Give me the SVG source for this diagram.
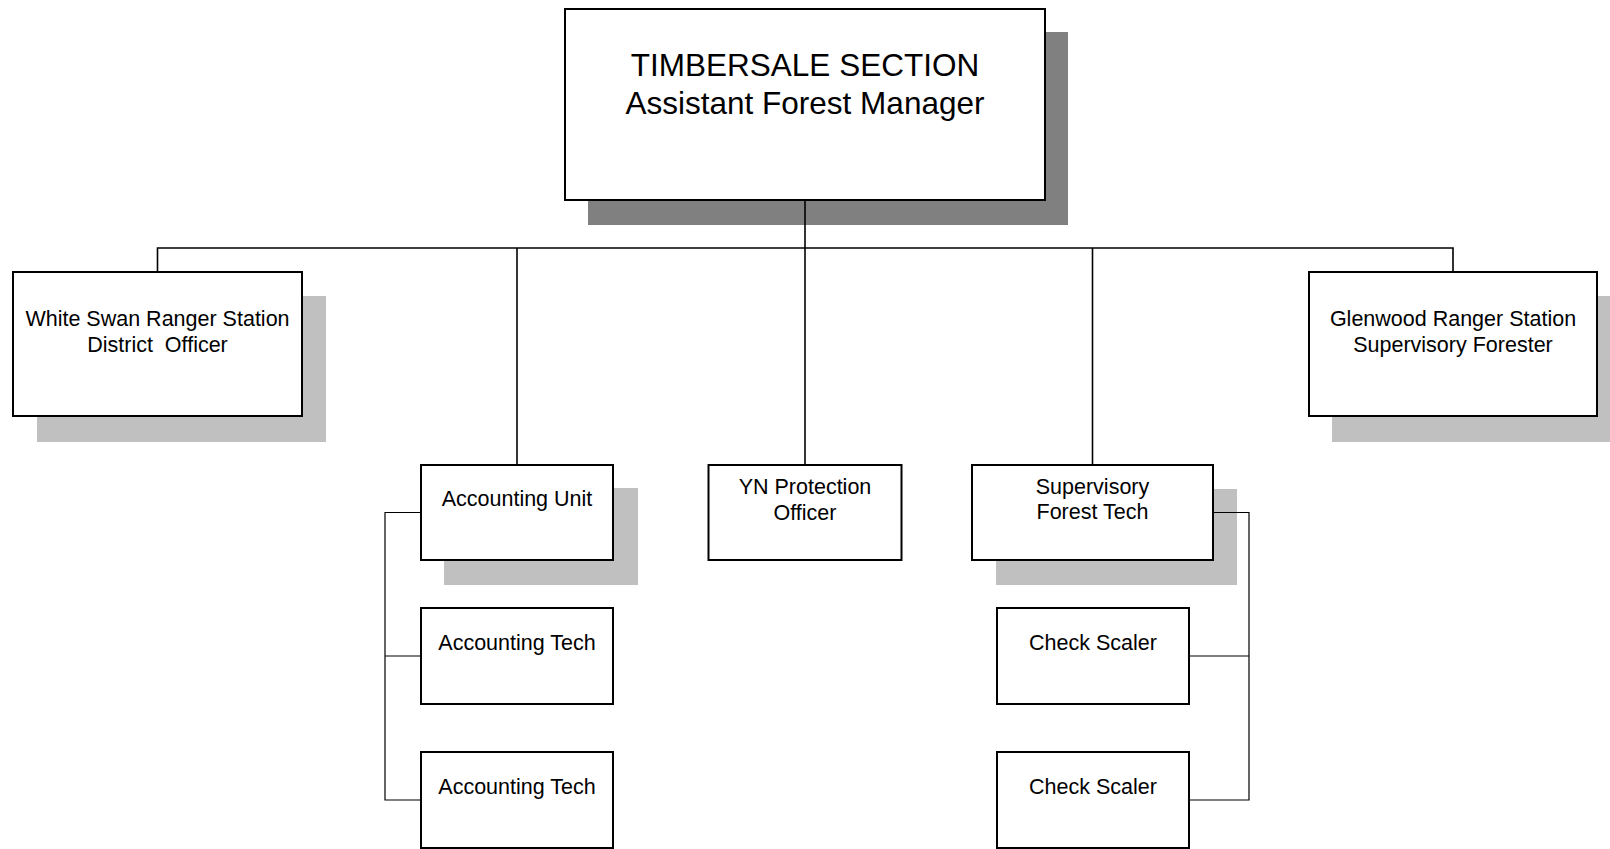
<svg xmlns="http://www.w3.org/2000/svg" width="1610" height="849" viewBox="0 0 1610 849">
  <style>
    .box { fill: #ffffff; stroke: #000000; stroke-width: 2; }
    .shadow { fill: #c0c0c0; stroke: none; }
    .shadow-dark { fill: #808080; stroke: none; }
    .label { font-family: "Liberation Sans", Arial, sans-serif; font-size: 21.5px; fill: #000000; text-anchor: middle; }
    .title { font-family: "Liberation Sans", Arial, sans-serif; font-size: 31.5px; fill: #000000; text-anchor: middle; }
    .link { fill: none; stroke: #000000; stroke-width: 1.6; }
    .bracket { fill: none; stroke: #000000; stroke-width: 1.2; }
  </style>
  <rect width="1610" height="849" fill="#ffffff"/>

  <!-- Head of section -->
  <g id="timbersale-section">
    <rect class="shadow-dark" x="588" y="32" width="480" height="193"/>
    <rect class="box" x="565" y="9" width="480" height="191"/>
    <text class="title" x="805" y="76">TIMBERSALE SECTION</text>
    <text class="title" x="805" y="114">Assistant Forest Manager</text>
  </g>

  <!-- Ranger stations -->
  <g id="white-swan">
    <rect class="shadow" x="37" y="296" width="289" height="146"/>
    <rect class="box" x="13" y="272" width="289" height="144"/>
    <text class="label" x="157.5" y="326">White Swan Ranger Station</text>
    <text class="label" x="157.5" y="352" xml:space="preserve">District  Officer</text>
  </g>

  <g id="glenwood">
    <rect class="shadow" x="1332" y="296" width="289" height="146"/>
    <rect class="box" x="1309" y="272" width="288" height="144"/>
    <text class="label" x="1453" y="326">Glenwood Ranger Station</text>
    <text class="label" x="1453" y="352">Supervisory Forester</text>
  </g>

  <!-- Accounting branch -->
  <g id="accounting-unit">
    <rect class="shadow" x="444" y="488" width="194" height="97"/>
    <rect class="box" x="421" y="465" width="192" height="95"/>
    <text class="label" x="517" y="506">Accounting Unit</text>
  </g>

  <g id="accounting-tech-1">
    <rect class="box" x="421" y="608" width="192" height="96"/>
    <text class="label" x="517" y="650">Accounting Tech</text>
  </g>

  <g id="accounting-tech-2">
    <rect class="box" x="421" y="752" width="192" height="96"/>
    <text class="label" x="517" y="794">Accounting Tech</text>
  </g>

  <!-- Protection -->
  <g id="yn-protection">
    <rect class="box" x="708.5" y="465" width="193" height="95"/>
    <text class="label" x="805" y="494">YN Protection</text>
    <text class="label" x="805" y="520">Officer</text>
  </g>

  <!-- Forest tech branch -->
  <g id="supervisory-forest-tech">
    <rect class="shadow" x="996" y="489" width="241" height="96"/>
    <rect class="box" x="972" y="465" width="241" height="95"/>
    <text class="label" x="1092.5" y="494">Supervisory</text>
    <text class="label" x="1092.5" y="519">Forest Tech</text>
  </g>

  <g id="check-scaler-1">
    <rect class="box" x="997" y="608" width="192" height="96"/>
    <text class="label" x="1093" y="650">Check Scaler</text>
  </g>

  <g id="check-scaler-2">
    <rect class="box" x="997" y="752" width="192" height="96"/>
    <text class="label" x="1093" y="794">Check Scaler</text>
  </g>

  <!-- Reporting lines -->
  <g id="connectors">
    <path class="link" d="M805 200 V248"/>
    <path class="link" d="M157.5 272 V248 H1453 V272"/>
    <path class="link" d="M517 248 V465"/>
    <path class="link" d="M805 248 V465"/>
    <path class="link" d="M1092.5 248 V465"/>
    <path class="bracket" d="M421 512.5 H385 V800 H421"/>
    <path class="bracket" d="M385 656 H421"/>
    <path class="bracket" d="M1213 512.5 H1249 V800 H1189"/>
    <path class="bracket" d="M1249 656 H1189"/>
  </g>
</svg>
